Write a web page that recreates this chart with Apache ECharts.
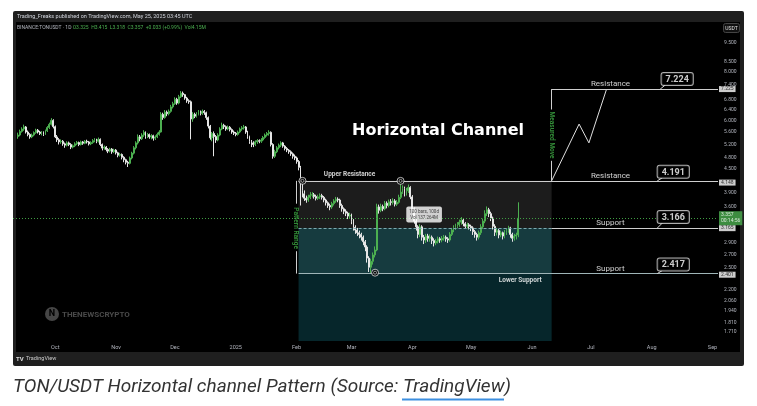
<!DOCTYPE html>
<html><head><meta charset="utf-8">
<script src="https://cdn.jsdelivr.net/npm/echarts@6/dist/echarts.min.js"></script>
<style>html,body{margin:0;padding:0;background:#fff}#c{width:757px;height:406px}</style>
</head><body><div id="c"></div><script>
// ---------------- DATA ----------------
const startDate = '2024-09-12'; // first daily bar
// daily candles [open, close, low, high]
const candles = [
[5.45,5.50,5.38,5.58],[5.50,5.62,5.46,5.68],[5.62,5.70,5.58,5.76],[5.70,5.77,5.64,5.85],[5.77,5.60,5.55,5.80],[5.60,5.52,5.46,5.65],[5.52,5.44,5.38,5.56],
[5.44,5.50,5.40,5.55],[5.50,5.58,5.46,5.62],[5.58,5.66,5.54,5.71],[5.66,5.60,5.55,5.70],[5.60,5.55,5.50,5.64],[5.55,5.59,5.49,5.63],[5.59,5.52,5.47,5.62],
[5.52,5.64,5.50,5.68],[5.64,5.75,5.60,5.80],[5.75,5.86,5.70,5.92],[5.86,6.00,5.82,6.08],[6.00,5.78,5.72,6.04],[5.78,5.44,5.40,5.82],[5.44,5.35,5.28,5.50],
[5.35,5.28,5.20,5.40],[5.28,5.30,5.22,5.36],[5.30,5.22,5.16,5.34],[5.22,5.18,5.10,5.26],[5.18,5.25,5.14,5.30],[5.25,5.20,5.15,5.29],[5.20,5.12,5.06,5.24],
[5.12,5.16,5.08,5.20],[5.16,5.22,5.12,5.27],[5.22,5.26,5.18,5.31],[5.26,5.20,5.15,5.29],[5.20,5.28,5.17,5.32],[5.28,5.24,5.19,5.31],[5.24,5.30,5.21,5.34],
[5.30,5.28,5.23,5.35],[5.28,5.22,5.17,5.31],[5.22,5.26,5.18,5.30],[5.26,5.32,5.22,5.37],[5.32,5.34,5.27,5.40],[5.34,5.30,5.24,5.38],[5.30,5.36,5.26,5.42],
[5.36,5.20,5.15,5.39],[5.20,5.09,5.02,5.23],[5.09,5.12,5.04,5.17],[5.12,5.05,4.99,5.15],[5.05,5.00,4.94,5.09],[5.00,5.06,4.96,5.10],[5.06,4.98,4.92,5.09],
[4.98,5.03,4.94,5.07],[5.03,4.95,4.90,5.06],[4.95,4.88,4.82,4.98],[4.88,4.90,4.84,4.95],[4.90,4.82,4.76,4.93],[4.82,4.75,4.68,4.85],[4.75,4.68,4.62,4.78],
[4.68,4.65,4.55,4.72],[4.65,4.80,4.62,4.84],[4.80,4.94,4.76,4.98],[4.94,5.10,4.90,5.15],[5.10,5.25,5.05,5.30],[5.25,5.44,5.20,5.52],[5.44,5.38,5.30,5.50],
[5.38,5.50,5.34,5.56],[5.50,5.59,5.44,5.66],[5.59,5.45,5.38,5.62],[5.45,5.52,5.40,5.57],[5.52,5.44,5.38,5.55],[5.44,5.48,5.36,5.53],[5.48,5.40,5.32,5.51],
[5.40,5.44,5.34,5.49],[5.44,5.52,5.40,5.58],[5.52,5.60,5.48,5.66],[5.60,6.22,5.58,6.30],[6.22,6.10,6.02,6.28],[6.10,6.30,6.06,6.38],[6.30,6.24,6.15,6.36],
[6.24,6.33,6.18,6.40],[6.33,6.50,6.28,6.58],[6.50,6.62,6.44,6.70],[6.62,6.80,6.58,6.88],[6.80,6.65,6.58,6.86],[6.65,6.90,6.60,6.98],[6.90,7.05,6.85,7.14],
[7.05,6.99,6.90,7.12],[6.99,6.85,6.78,7.02],[6.85,6.74,6.66,6.90],[6.74,6.70,6.62,6.80],[6.70,6.05,5.36,6.75],[6.05,6.22,5.95,6.30],[6.22,6.15,6.08,6.28],
[6.15,6.22,6.10,6.30],[6.22,6.30,6.18,6.38],[6.30,6.25,6.18,6.36],[6.25,6.33,6.20,6.40],[6.33,6.28,6.20,6.38],[6.28,6.10,6.02,6.32],[6.10,5.80,5.72,6.14],
[5.80,5.41,5.35,5.84],[5.41,5.55,5.30,5.60],[5.55,5.45,4.85,5.62],[5.45,5.34,5.25,5.50],[5.34,5.50,5.30,5.56],[5.50,5.70,5.46,5.76],[5.70,5.83,5.66,5.92],
[5.83,5.78,5.70,5.88],[5.78,5.70,5.64,5.82],[5.70,5.76,5.66,5.82],[5.76,5.68,5.62,5.80],[5.68,5.60,5.54,5.72],[5.60,5.56,5.50,5.65],[5.56,5.52,5.46,5.60],
[5.52,5.60,5.48,5.65],[5.60,5.70,5.56,5.75],[5.70,5.74,5.64,5.80],[5.74,5.77,5.68,5.84],[5.77,5.60,5.54,5.80],[5.60,5.45,5.38,5.64],[5.45,5.30,5.22,5.48],
[5.30,5.25,5.12,5.34],[5.25,5.20,5.12,5.30],[5.20,5.28,5.15,5.33],[5.28,5.32,5.22,5.37],[5.32,5.30,5.24,5.36],[5.30,5.34,5.25,5.40],[5.34,5.42,5.30,5.47],
[5.42,5.50,5.38,5.55],[5.50,5.55,5.45,5.60],[5.55,5.59,5.48,5.66],[5.59,5.20,5.14,5.62],[5.20,4.85,4.78,5.24],[4.85,4.98,4.80,5.04],[4.98,5.10,4.94,5.15],
[5.10,5.18,5.05,5.23],[5.18,5.25,5.12,5.30],[5.25,5.15,5.10,5.28],[5.15,5.08,5.02,5.18],[5.08,5.03,4.97,5.12],[5.03,4.98,4.92,5.06],[4.98,4.92,4.86,5.02],
[4.92,4.85,4.78,4.96],[4.85,4.80,4.74,4.90],[4.80,4.70,4.64,4.84],[4.70,4.54,4.46,4.74],[4.54,3.95,3.62,4.58],[3.95,3.88,3.80,4.19],[3.88,3.78,3.72,3.96],
[3.78,3.74,3.68,3.84],[3.74,3.80,3.70,3.86],[3.80,3.85,3.76,3.92],[3.85,3.86,3.80,3.92],[3.86,3.82,3.77,3.90],[3.82,3.78,3.73,3.86],[3.78,3.81,3.74,3.86],
[3.81,3.84,3.76,3.89],[3.84,3.80,3.75,3.88],[3.80,3.74,3.69,3.83],[3.74,3.68,3.62,3.77],[3.68,3.62,3.57,3.71],[3.62,3.59,3.52,3.66],[3.59,3.66,3.55,3.70],
[3.66,3.72,3.62,3.76],[3.72,3.76,3.68,3.81],[3.76,3.74,3.69,3.80],[3.74,3.62,3.57,3.77],[3.62,3.55,3.49,3.66],[3.55,3.50,3.44,3.58],[3.50,3.46,3.40,3.54],
[3.46,3.40,3.34,3.49],[3.40,3.42,3.35,3.47],[3.42,3.30,3.24,3.45],[3.30,3.18,3.12,3.34],[3.18,3.13,3.06,3.22],[3.13,3.08,3.02,3.17],[3.08,3.05,2.98,3.12],
[3.05,3.00,2.94,3.08],[3.00,2.92,2.86,3.03],[2.92,2.83,2.76,2.95],[2.83,2.65,2.58,2.86],[2.65,2.51,2.44,2.68],[2.51,2.60,2.42,2.64],[2.60,2.70,2.55,2.74],
[2.70,2.78,2.66,2.84],[2.78,3.59,2.76,3.66],[3.59,3.52,3.45,3.64],[3.52,3.60,3.48,3.66],[3.60,3.55,3.50,3.64],[3.55,3.67,3.52,3.72],[3.67,3.62,3.56,3.71],
[3.62,3.70,3.58,3.75],[3.70,3.69,3.62,3.76],[3.69,3.72,3.64,3.78],[3.72,3.65,3.60,3.76],[3.65,3.69,3.61,3.74],[3.69,3.80,3.66,3.86],[3.80,3.92,3.76,4.19],
[3.92,4.00,3.88,4.08],[4.00,3.88,3.82,4.05],[3.88,3.95,3.84,4.02],[3.95,4.03,3.90,4.10],[4.03,3.81,3.76,4.06],[3.81,3.55,3.50,3.85],[3.55,3.30,3.25,3.58],
[3.30,3.19,3.12,3.34],[3.19,3.05,2.98,3.22],[3.05,3.19,3.00,3.24],[3.19,3.00,2.94,3.22],[3.00,2.95,2.88,3.04],[2.95,3.02,2.90,3.06],[3.02,2.98,2.92,3.06],
[2.98,3.00,2.92,3.05],[3.00,2.94,2.88,3.03],[2.94,2.90,2.84,2.98],[2.90,2.93,2.86,2.97],[2.93,2.97,2.89,3.01],[2.97,2.95,2.90,3.00],[2.95,2.98,2.91,3.02],
[2.98,3.00,2.94,3.04],[3.00,2.97,2.92,3.03],[2.97,2.95,2.90,3.00],[2.95,3.05,2.92,3.09],[3.05,3.13,3.02,3.17],[3.13,3.18,3.09,3.22],[3.18,3.20,3.13,3.25],
[3.20,3.23,3.16,3.28],[3.23,3.28,3.19,3.33],[3.28,3.32,3.23,3.38],[3.32,3.25,3.20,3.35],[3.25,3.20,3.15,3.28],[3.20,3.23,3.16,3.27],[3.23,3.20,3.14,3.26],
[3.20,3.17,3.11,3.23],[3.17,3.10,3.04,3.20],[3.10,3.05,2.99,3.13],[3.05,3.00,2.94,3.08],[3.00,3.08,2.96,3.12],[3.08,3.19,3.04,3.24],[3.19,3.30,3.15,3.35],
[3.30,3.45,3.26,3.52],[3.45,3.53,3.40,3.60],[3.53,3.45,3.38,3.57],[3.45,3.36,3.30,3.49],[3.36,3.20,3.14,3.39],[3.20,3.09,3.02,3.24],[3.09,3.12,3.03,3.17],
[3.12,3.04,2.98,3.15],[3.04,3.08,3.00,3.12],[3.08,3.02,2.96,3.10],[3.02,3.09,2.98,3.13],[3.09,3.12,3.04,3.16],[3.12,3.17,3.08,3.21],[3.17,3.05,2.99,3.19],
[3.05,2.98,2.92,3.08],[2.98,3.02,2.94,3.06],[3.02,3.04,2.96,3.08],[3.04,3.357,3.00,3.69]
];
const levelTarget = 7.224;      // projected resistance
const levelResistance = 4.191;  // upper resistance
const levelSupport = 3.166;     // support
const levelLowSupport = 2.417;  // lower support
const lastPrice = 3.357;
const priceTicks = [9.5, 8.5, 8.0, 7.4, 6.8, 6.4, 6.0, 5.6, 5.2, 4.8, 4.5, 3.9, 3.6, 2.9, 2.7, 2.5, 2.2, 2.06, 1.94, 1.81, 1.71];
const axisMarks = [7.225, 4.148, 3.165, 2.401];
const monthStarts = ['2024-10-01','2024-11-01','2024-12-01','2025-01-01','2025-02-01','2025-03-01','2025-04-01','2025-05-01','2025-06-01','2025-07-01','2025-08-01','2025-09-01'];
const monthLabels = ['Oct','Nov','Dec','2025','Feb','Mar','Apr','May','Jun','Jul','Aug','Sep'];
const projDates = ['2025-06-11','2025-06-25','2025-06-30','2025-07-09'];
const projPrices = [4.191, 5.87, 5.25, 7.224];
const pivotDates = ['2025-02-04','2025-03-26','2025-03-13'];
const pivotPrices = [4.191, 4.19, 2.43];

// ---------------- BUILD ----------------
const DAY = 864e5;
const t0 = Date.parse(startDate + 'T00:00:00Z');
const dx = s => (Date.parse(s.length <= 10 ? s + 'T00:00:00Z' : s) - t0) / DAY;
const L = Math.log;
const xMin = -2.55, xMax = 356.8, yMin = 0.4825, yMax = 2.3756;
const boxL = dx('2025-02-02'), boxR = dx('2025-06-11'), prX = dx('2025-01-31') + 0.7;
const candleData = candles.map((r, i) => [i, L(r[0]), L(r[1]), L(r[2]), L(r[3])]);
const monthX = monthStarts.map(dx);

function seg(x1, v1, x2, v2, style) {
  return [{coord: [x1, v1], lineStyle: style}, {coord: [x2, v2]}];
}
const grayLine = {color: '#cfcfcf', width: 1, type: 'solid'};

function lbl(date, price, text, opts) {
  return {value: [typeof date === 'number' ? date : dx(date), L(price)], label: Object.assign({show: true, formatter: text, color: '#fff', fontFamily: 'Roboto'}, opts)};
}
const rx = dx('2025-07-11'), bx1 = dx('2025-08-14'), bx2 = dx('2025-08-12');
const calloutStyle = {backgroundColor: '#000', borderColor: '#d8d8d8', borderWidth: 1, borderRadius: 2, padding: [2, 4, 1, 4], fontSize: 9, fontWeight: 'bold', position: 'top'};
const annot = [
  lbl(rx, levelTarget, 'Resistance', {position: 'top', distance: 1, fontSize: 8}),
  lbl(rx, levelResistance, 'Resistance', {position: 'top', distance: 1, fontSize: 8}),
  lbl(rx, levelSupport, 'Support', {position: 'top', distance: 1, fontSize: 8}),
  lbl(rx, levelLowSupport, 'Support', {position: 'top', distance: 1, fontSize: 8}),
  lbl(bx1, levelTarget, String(levelTarget), Object.assign({}, calloutStyle, {distance: 4})),
  lbl(bx2, levelResistance, String(levelResistance), Object.assign({}, calloutStyle, {distance: 3})),
  lbl(bx2, levelSupport, String(levelSupport), Object.assign({}, calloutStyle, {distance: 5})),
  lbl(bx2, levelLowSupport, String(levelLowSupport), Object.assign({}, calloutStyle, {distance: 3})),
  lbl(dx('2025-02-28'), levelResistance, 'Upper Resistance', {position: 'top', distance: 3, fontSize: 6.5, fontWeight: 'bold'}),
  lbl(dx('2025-05-26'), levelLowSupport, 'Lower Support', {position: 'bottom', distance: 3, fontSize: 6.5, fontWeight: 'bold'}),
  lbl(prX, levelSupport, 'Pattern Range', {position: 'inside', rotate: -90, color: '#3fae45', fontSize: 6.5, fontWeight: 'bold'}),
  lbl(boxR, 5.50, 'Measured Move', {position: 'inside', rotate: -90, color: '#3fae45', fontSize: 6.5, fontWeight: 'bold'}),
  lbl(dx('2025-04-07'), 3.43, '100 bars, 100d\nVol 137.264M', {position: 'inside', backgroundColor: '#fff', color: '#111', fontSize: 4.5, lineHeight: 6, padding: [2, 3], borderRadius: 2, align: 'center'}),
];
axisMarks.forEach(v => annot.push(lbl(xMax, v, v.toFixed(3), {position: 'right', distance: 1, backgroundColor: '#fff', color: '#000', fontSize: 5, padding: [1, 2, 0, 2]})));
annot.push(lbl(xMax, lastPrice, '{a|' + lastPrice.toFixed(3) + '}\n{a|00:14:56}', {position: 'right', distance: 1, backgroundColor: '#4caf50', padding: [1, 2], rich: {a: {color: '#fff', fontSize: 5, lineHeight: 6}}}));

// small pointer tails of the price callouts (from box corner down to the level line)
const pxPerDay = 705 / (xMax - xMin);
const tail = (xBox, v, dy) => seg(xBox, L(v) + dy / 168.5, xBox - 5 / pxPerDay, L(v), {color: '#d8d8d8', width: 1, type: 'solid'});

const option = {
  backgroundColor: '#fff',
  animation: false,
  grid: {left: 13, right: 39, top: 22, bottom: 65, containLabel: false},
  xAxis: {type: 'value', min: xMin, max: xMax, axisLine: {show: false}, axisTick: {show: false}, splitLine: {show: false},
    axisLabel: {customValues: monthX, formatter: v => { const k = monthX.findIndex(m => Math.abs(m - v) < 0.01); return k >= 0 ? monthLabels[k] : ''; }, color: '#b2b5be', fontSize: 5.5, margin: 4, fontFamily: 'Roboto'}},
  yAxis: {type: 'value', position: 'right', min: yMin, max: yMax, scale: true, axisLine: {show: false}, axisTick: {show: false}, splitLine: {show: false},
    axisLabel: {customValues: priceTicks.map(L), formatter: v => Math.exp(v).toFixed(3), color: '#b2b5be', fontSize: 5, margin: 6, fontFamily: 'Roboto'}},
  graphic: [
    {type: 'rect', z: -20, silent: true, shape: {x: 13, y: 11, width: 731, height: 355, r: 2}, style: {fill: '#1f1f1f'}},
    {type: 'rect', z: -19, silent: true, shape: {x: 16, y: 22, width: 724, height: 330}, style: {fill: '#000'}},
    {type: 'text', z: 50, x: 17, y: 16.5, style: {text: 'Trading_Freaks published on TradingView.com, May 25, 2025 03:45 UTC', fill: '#d1d4dc', font: '5.5px Roboto', verticalAlign: 'middle'}},
    {type: 'text', z: 50, x: 17, y: 27.5, style: {text: '{g|BINANCE:TONUSDT · 1D }{v|O3.325  H3.415  L3.318  C3.357  +0.033 (+0.99%)  Vol4.15M}', verticalAlign: 'middle', rich: {g: {fill: '#b2b5be', font: '5px Roboto'}, v: {fill: '#4caf50', font: '5px Roboto'}}}},
    {type: 'rect', z: 50, shape: {x: 723.5, y: 23.5, width: 16, height: 9, r: 2}, style: {fill: '#111', stroke: '#444', lineWidth: 1}},
    {type: 'text', z: 51, x: 731.5, y: 28.5, style: {text: 'USDT', fill: '#e0e0e0', font: '5px Roboto', align: 'center', verticalAlign: 'middle'}},
    {type: 'text', z: 50, x: 438, y: 131, style: {text: 'Horizontal Channel', fill: '#fff', font: 'bold 16px "DejaVu Sans"', align: 'center', verticalAlign: 'middle'}},
    {type: 'circle', z: 50, shape: {cx: 52, cy: 314, r: 7}, style: {fill: '#464646'}},
    {type: 'text', z: 51, x: 52, y: 314, style: {text: 'N', fill: '#000', font: 'bold 9px Roboto', align: 'center', verticalAlign: 'middle'}},
    {type: 'text', z: 50, x: 62, y: 314.5, style: {text: 'THENEWSCRYPTO', fill: '#4a4a4a', font: 'bold 8px Roboto', verticalAlign: 'middle'}},
    {type: 'text', z: 50, x: 16, y: 359, style: {text: 'TV', fill: '#ddd', font: 'bold 6px Roboto', verticalAlign: 'middle'}},
    {type: 'text', z: 50, x: 26, y: 359, style: {text: 'TradingView', fill: '#ccc', font: '5.5px Roboto', verticalAlign: 'middle'}},
    {type: 'text', z: 50, x: 13, y: 387, style: {text: 'TON/USDT Horizontal channel Pattern (Source: TradingView)', fill: '#333', font: 'italic 19px Roboto', verticalAlign: 'middle'}},
    {type: 'line', z: 50, shape: {x1: 402, y1: 399.5, x2: 504, y2: 399.5}, style: {stroke: '#3d8fe0', lineWidth: 2}},
  ],
  series: [
    {type: 'candlestick', data: candleData, encode: {x: 0, y: [1, 2, 3, 4]}, barWidth: 1.4, clip: false,
      itemStyle: {color: '#4caf50', color0: '#e6e6e6', borderColor: '#4caf50', borderColor0: '#e6e6e6', borderWidth: 1},
      markArea: {silent: true, data: [
        [{xAxis: boxL, yAxis: L(levelResistance), itemStyle: {color: '#1c1c1c'}}, {xAxis: boxR, yAxis: L(levelSupport)}],
        [{xAxis: boxL, yAxis: L(levelSupport), itemStyle: {color: '#163b3f'}}, {xAxis: boxR, yAxis: L(levelLowSupport)}],
        [{xAxis: boxL, yAxis: L(levelLowSupport), itemStyle: {color: '#06262b'}}, {xAxis: boxR, yAxis: yMin}],
      ]},
      markLine: {silent: true, symbol: ['none', 'none'], label: {show: false}, data: [
        seg(xMin, L(lastPrice), xMax, L(lastPrice), {color: '#3f9e43', width: 1, type: [1, 2]}),
        seg(boxL, L(levelResistance), xMax, L(levelResistance), grayLine),
        seg(boxL, L(levelSupport), boxR, L(levelSupport), {color: '#7fa9b0', width: 1, type: [3, 2]}),
        seg(boxR, L(levelSupport), xMax, L(levelSupport), grayLine),
        seg(boxL, L(levelLowSupport), xMax, L(levelLowSupport), {color: '#9fb5b8', width: 1, type: 'solid'}),
        seg(boxR, L(levelTarget), xMax, L(levelTarget), grayLine),
        seg(boxR, L(levelTarget), boxR, L(6.4), grayLine),
        seg(boxR, L(4.72), boxR, L(levelResistance), grayLine),
        seg(prX, L(levelResistance), prX, L(3.66), grayLine),
        seg(prX, L(2.76), prX, L(levelLowSupport), grayLine),
        tail(bx1 - 12 / pxPerDay, levelTarget, 4),
        tail(bx2 - 11 / pxPerDay, levelResistance, 3),
        tail(bx2 - 11 / pxPerDay, levelSupport, 5),
        tail(bx2 - 11 / pxPerDay, levelLowSupport, 3),
      ]}},
    {type: 'line', data: projDates.map((d, i) => [dx(d), L(projPrices[i])]), symbol: 'none', lineStyle: {color: '#e0e0e0', width: 1}, z: 4},
    {type: 'scatter', data: pivotDates.map((d, i) => [dx(d), L(pivotPrices[i])]), symbol: 'circle', symbolSize: 7, itemStyle: {color: '#000', borderColor: '#e0e0e0', borderWidth: 1}, z: 6},
    {type: 'scatter', data: pivotDates.map((d, i) => [dx(d), L(pivotPrices[i])]), symbol: 'circle', symbolSize: 3, itemStyle: {color: '#000', borderColor: '#e0e0e0', borderWidth: 0.8}, z: 7},
    {type: 'scatter', data: annot, symbolSize: 0, clip: false, z: 8, silent: true},
  ]
};
const chart = echarts.init(document.getElementById('c'), null, {renderer: 'canvas'});
chart.setOption(option);
</script></body></html>
